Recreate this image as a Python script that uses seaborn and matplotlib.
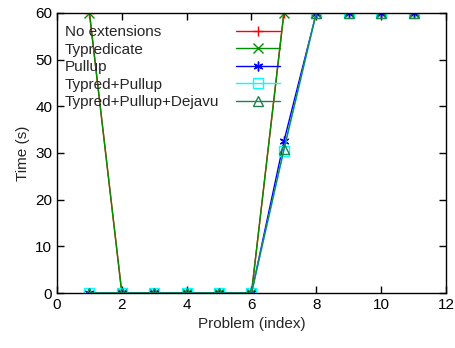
import seaborn as sns
import matplotlib.pyplot as plt

problems = [1, 2, 3, 4, 5, 6, 7, 8, 9, 10, 11]
no_ext = [60, 0, 0, 0, 0, 0, 60, 60, 60, 60, 60]
typredicate = [60, 0, 0, 0, 0, 0, 60, 60, 60, 60, 60]
pullup = [0, 0, 0, 0, 0, 0, 32.5, 60, 60, 60, 60]
typred_pullup = [0, 0, 0, 0, 0, 0, 30.5, 60, 60, 60, 60]
typred_pullup_dejavu = [0, 0, 0, 0, 0, 0, 30.8, 60, 60, 60, 60]

sns.set_style("ticks")
plt.rcParams['font.family'] = ['Liberation Sans', 'DejaVu Sans']
plt.rcParams['font.size'] = 11

fig = plt.figure(figsize=(4.56, 3.48), dpi=100)
ax = fig.add_axes([0.125, 0.158, 0.853, 0.805])

series = [
    ("No extensions", no_ext, "red", "+"),
    ("Typredicate", typredicate, "#009000", "x"),
    ("Pullup", pullup, "blue", (6, 2, 0)),
    ("Typred+Pullup", typred_pullup, "cyan", "s"),
    ("Typred+Pullup+Dejavu", typred_pullup_dejavu, "#208050", "^"),
]
for label, vals, color, marker in series:
    sns.lineplot(x=problems, y=vals, ax=ax, label=label, color=color,
                 marker=marker, markersize=7, markerfacecolor="none",
                 markeredgecolor=color, markeredgewidth=1, linewidth=1)

ax.set_xlim(0, 12)
ax.set_ylim(0, 60)
ax.set_xticks(range(0, 13, 2))
ax.set_yticks(range(0, 61, 10))
ax.tick_params(direction="in", top=True, right=True, length=5, width=1,
               labelsize=11, colors="black")
for s in ax.spines.values():
    s.set_linewidth(1)
    s.set_color("black")
ax.set_xlabel("Problem (index)", fontsize=11)
ax.set_ylabel("Time (s)", fontsize=11)

leg = ax.legend(loc="upper left", frameon=False, markerfirst=False,
                handlelength=2.85, borderpad=0, borderaxespad=0,
                labelspacing=0.22, handletextpad=1.1,
                bbox_to_anchor=(0.02, 0.955))

# gnuplot-style key: labels left-aligned, samples lined up on the right
fig.canvas.draw()
r = fig.canvas.get_renderer()
widths = [t.get_window_extent(r).width for t in leg.get_texts()]
col = leg._legend_handle_box.get_children()[0]
col.align = "left"
for item, w in zip(col.get_children(), widths):
    item.sep += (max(widths) - w) * 72 / fig.dpi

fig.savefig("out.png", dpi=100)
